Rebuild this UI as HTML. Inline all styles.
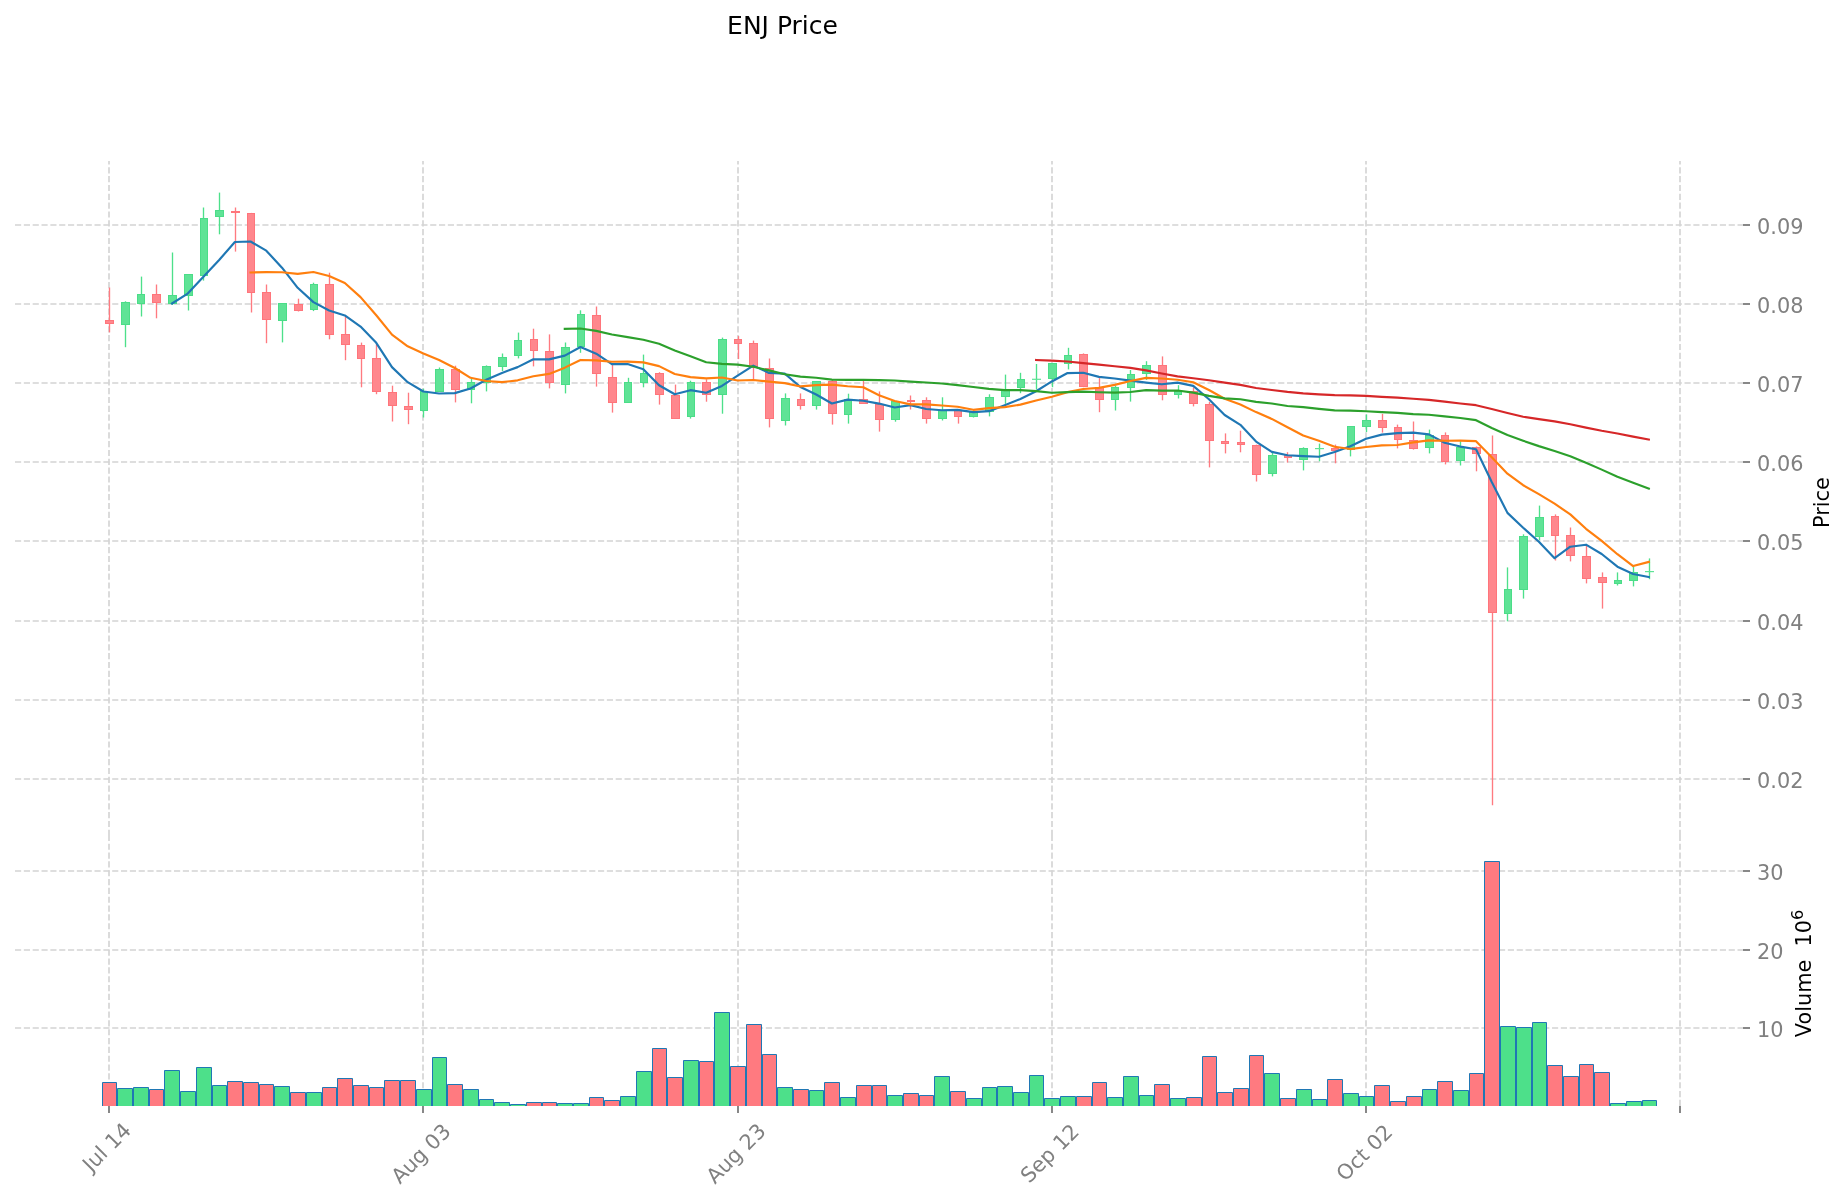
<!DOCTYPE html>
<html><head><meta charset="utf-8"><title>ENJ Price</title>
<style>html,body{margin:0;padding:0;background:#fff}body{width:1847px;height:1202px;overflow:hidden}svg{will-change:transform}svg text{white-space:pre}</style></head>
<body>
<svg width="1847" height="1202" viewBox="0 0 1847 1202" style="display:block">
<rect width="1847" height="1202" fill="#fff"/>
<g stroke="#d4d4d4" stroke-width="1.67" stroke-dasharray="6.1667 2.6667" fill="none">
<path d="M15 225H1743"/>
<path d="M15 304H1743"/>
<path d="M15 383H1743"/>
<path d="M15 462H1743"/>
<path d="M15 541H1743"/>
<path d="M15 621H1743"/>
<path d="M15 700H1743"/>
<path d="M15 779H1743"/>
<path d="M15 871H1743"/>
<path d="M15 950H1743"/>
<path d="M15 1028H1743"/>
<path d="M109 835.9V161"/>
<path d="M109 1106V835.9"/>
<path d="M423 835.9V161"/>
<path d="M423 1106V835.9"/>
<path d="M738 835.9V161"/>
<path d="M738 1106V835.9"/>
<path d="M1052 835.9V161"/>
<path d="M1052 1106V835.9"/>
<path d="M1366 835.9V161"/>
<path d="M1366 1106V835.9"/>
<path d="M1680 835.9V161"/>
<path d="M1680 1106V835.9"/>
</g>
<g stroke="#1f77b4" stroke-width="1">
<path d="M102.5 1106V1082.5H116.5V1106" fill="#ff7a80"/>
<path d="M117.5 1106V1088.5H132.5V1106" fill="#4de08a"/>
<path d="M133.5 1106V1087.5H148.5V1106" fill="#4de08a"/>
<path d="M149.5 1106V1089.5H163.5V1106" fill="#ff7a80"/>
<path d="M164.5 1106V1070.5H179.5V1106" fill="#4de08a"/>
<path d="M180.5 1106V1091.5H195.5V1106" fill="#4de08a"/>
<path d="M196.5 1106V1067.5H211.5V1106" fill="#4de08a"/>
<path d="M212.5 1106V1085.5H226.5V1106" fill="#4de08a"/>
<path d="M227.5 1106V1081.5H242.5V1106" fill="#ff7a80"/>
<path d="M243.5 1106V1082.5H258.5V1106" fill="#ff7a80"/>
<path d="M259.5 1106V1084.5H273.5V1106" fill="#ff7a80"/>
<path d="M274.5 1106V1086.5H289.5V1106" fill="#4de08a"/>
<path d="M290.5 1106V1092.5H305.5V1106" fill="#ff7a80"/>
<path d="M306.5 1106V1092.5H321.5V1106" fill="#4de08a"/>
<path d="M322.5 1106V1087.5H336.5V1106" fill="#ff7a80"/>
<path d="M337.5 1106V1078.5H352.5V1106" fill="#ff7a80"/>
<path d="M353.5 1106V1085.5H368.5V1106" fill="#ff7a80"/>
<path d="M369.5 1106V1087.5H383.5V1106" fill="#ff7a80"/>
<path d="M384.5 1106V1080.5H399.5V1106" fill="#ff7a80"/>
<path d="M400.5 1106V1080.5H415.5V1106" fill="#ff7a80"/>
<path d="M416.5 1106V1089.5H431.5V1106" fill="#4de08a"/>
<path d="M432.5 1106V1057.5H446.5V1106" fill="#4de08a"/>
<path d="M447.5 1106V1084.5H462.5V1106" fill="#ff7a80"/>
<path d="M463.5 1106V1089.5H478.5V1106" fill="#4de08a"/>
<path d="M479.5 1106V1099.5H493.5V1106" fill="#4de08a"/>
<path d="M494.5 1106V1102.5H509.5V1106" fill="#4de08a"/>
<path d="M510.5 1106V1104.5H525.5V1106" fill="#4de08a"/>
<path d="M526.5 1106V1102.5H541.5V1106" fill="#ff7a80"/>
<path d="M542.5 1106V1102.5H556.5V1106" fill="#ff7a80"/>
<path d="M557.5 1106V1103.5H572.5V1106" fill="#4de08a"/>
<path d="M573.5 1106V1103.5H588.5V1106" fill="#4de08a"/>
<path d="M589.5 1106V1097.5H603.5V1106" fill="#ff7a80"/>
<path d="M604.5 1106V1100.5H619.5V1106" fill="#ff7a80"/>
<path d="M620.5 1106V1096.5H635.5V1106" fill="#4de08a"/>
<path d="M636.5 1106V1071.5H651.5V1106" fill="#4de08a"/>
<path d="M652.5 1106V1048.5H666.5V1106" fill="#ff7a80"/>
<path d="M667.5 1106V1077.5H682.5V1106" fill="#ff7a80"/>
<path d="M683.5 1106V1060.5H698.5V1106" fill="#4de08a"/>
<path d="M699.5 1106V1061.5H713.5V1106" fill="#ff7a80"/>
<path d="M714.5 1106V1012.5H729.5V1106" fill="#4de08a"/>
<path d="M730.5 1106V1066.5H745.5V1106" fill="#ff7a80"/>
<path d="M746.5 1106V1024.5H761.5V1106" fill="#ff7a80"/>
<path d="M762.5 1106V1054.5H776.5V1106" fill="#ff7a80"/>
<path d="M777.5 1106V1087.5H792.5V1106" fill="#4de08a"/>
<path d="M793.5 1106V1089.5H808.5V1106" fill="#ff7a80"/>
<path d="M809.5 1106V1090.5H823.5V1106" fill="#4de08a"/>
<path d="M824.5 1106V1082.5H839.5V1106" fill="#ff7a80"/>
<path d="M840.5 1106V1097.5H855.5V1106" fill="#4de08a"/>
<path d="M856.5 1106V1085.5H871.5V1106" fill="#ff7a80"/>
<path d="M872.5 1106V1085.5H886.5V1106" fill="#ff7a80"/>
<path d="M887.5 1106V1095.5H902.5V1106" fill="#4de08a"/>
<path d="M903.5 1106V1093.5H918.5V1106" fill="#ff7a80"/>
<path d="M919.5 1106V1095.5H933.5V1106" fill="#ff7a80"/>
<path d="M934.5 1106V1076.5H949.5V1106" fill="#4de08a"/>
<path d="M950.5 1106V1091.5H965.5V1106" fill="#ff7a80"/>
<path d="M966.5 1106V1098.5H981.5V1106" fill="#4de08a"/>
<path d="M982.5 1106V1087.5H996.5V1106" fill="#4de08a"/>
<path d="M997.5 1106V1086.5H1012.5V1106" fill="#4de08a"/>
<path d="M1013.5 1106V1092.5H1028.5V1106" fill="#4de08a"/>
<path d="M1029.5 1106V1075.5H1043.5V1106" fill="#4de08a"/>
<path d="M1044.5 1106V1098.5H1059.5V1106" fill="#4de08a"/>
<path d="M1060.5 1106V1096.5H1075.5V1106" fill="#4de08a"/>
<path d="M1076.5 1106V1096.5H1091.5V1106" fill="#ff7a80"/>
<path d="M1092.5 1106V1082.5H1106.5V1106" fill="#ff7a80"/>
<path d="M1107.5 1106V1097.5H1122.5V1106" fill="#4de08a"/>
<path d="M1123.5 1106V1076.5H1138.5V1106" fill="#4de08a"/>
<path d="M1139.5 1106V1095.5H1153.5V1106" fill="#4de08a"/>
<path d="M1154.5 1106V1084.5H1169.5V1106" fill="#ff7a80"/>
<path d="M1170.5 1106V1098.5H1185.5V1106" fill="#4de08a"/>
<path d="M1186.5 1106V1097.5H1201.5V1106" fill="#ff7a80"/>
<path d="M1202.5 1106V1056.5H1216.5V1106" fill="#ff7a80"/>
<path d="M1217.5 1106V1092.5H1232.5V1106" fill="#ff7a80"/>
<path d="M1233.5 1106V1088.5H1248.5V1106" fill="#ff7a80"/>
<path d="M1249.5 1106V1055.5H1263.5V1106" fill="#ff7a80"/>
<path d="M1264.5 1106V1073.5H1279.5V1106" fill="#4de08a"/>
<path d="M1280.5 1106V1098.5H1295.5V1106" fill="#ff7a80"/>
<path d="M1296.5 1106V1089.5H1311.5V1106" fill="#4de08a"/>
<path d="M1312.5 1106V1099.5H1326.5V1106" fill="#4de08a"/>
<path d="M1327.5 1106V1079.5H1342.5V1106" fill="#ff7a80"/>
<path d="M1343.5 1106V1093.5H1358.5V1106" fill="#4de08a"/>
<path d="M1359.5 1106V1096.5H1373.5V1106" fill="#4de08a"/>
<path d="M1374.5 1106V1085.5H1389.5V1106" fill="#ff7a80"/>
<path d="M1390.5 1106V1101.5H1405.5V1106" fill="#ff7a80"/>
<path d="M1406.5 1106V1096.5H1421.5V1106" fill="#ff7a80"/>
<path d="M1422.5 1106V1089.5H1436.5V1106" fill="#4de08a"/>
<path d="M1437.5 1106V1081.5H1452.5V1106" fill="#ff7a80"/>
<path d="M1453.5 1106V1090.5H1468.5V1106" fill="#4de08a"/>
<path d="M1469.5 1106V1073.5H1483.5V1106" fill="#ff7a80"/>
<path d="M1484.5 1106V861.5H1499.5V1106" fill="#ff7a80"/>
<path d="M1500.5 1106V1026.5H1515.5V1106" fill="#4de08a"/>
<path d="M1516.5 1106V1027.5H1531.5V1106" fill="#4de08a"/>
<path d="M1532.5 1106V1022.5H1546.5V1106" fill="#4de08a"/>
<path d="M1547.5 1106V1065.5H1562.5V1106" fill="#ff7a80"/>
<path d="M1563.5 1106V1076.5H1578.5V1106" fill="#ff7a80"/>
<path d="M1579.5 1106V1064.5H1593.5V1106" fill="#ff7a80"/>
<path d="M1594.5 1106V1072.5H1609.5V1106" fill="#ff7a80"/>
<path d="M1610.5 1106V1103.5H1625.5V1106" fill="#4de08a"/>
<path d="M1626.5 1106V1101.5H1641.5V1106" fill="#4de08a"/>
<path d="M1642.5 1106V1100.5H1656.5V1106" fill="#4de08a"/>
</g>
<path d="M109.5 287.5V332.4" stroke="#ff7a80" stroke-width="1.35"/>
<rect x="105.5" y="320.5" width="8" height="3" fill="#ff878d" stroke="#ff757b" stroke-width="1"/>
<path d="M125.5 301.3V347.2" stroke="#4de08a" stroke-width="1.35"/>
<rect x="121.5" y="302.5" width="8" height="22" fill="#5fe396" stroke="#4bdd88" stroke-width="1"/>
<path d="M141.5 276.6V316.5" stroke="#4de08a" stroke-width="1.35"/>
<rect x="137.5" y="294.5" width="7" height="9" fill="#5fe396" stroke="#4bdd88" stroke-width="1"/>
<path d="M156.5 284.5V318.3" stroke="#ff7a80" stroke-width="1.35"/>
<rect x="152.5" y="294.5" width="8" height="8" fill="#ff878d" stroke="#ff757b" stroke-width="1"/>
<path d="M172.5 252.5V305.0" stroke="#4de08a" stroke-width="1.35"/>
<rect x="168.5" y="295.5" width="8" height="8" fill="#5fe396" stroke="#4bdd88" stroke-width="1"/>
<path d="M188.5 274.0V310.5" stroke="#4de08a" stroke-width="1.35"/>
<rect x="184.5" y="274.5" width="8" height="21" fill="#5fe396" stroke="#4bdd88" stroke-width="1"/>
<path d="M203.5 207.5V280.6" stroke="#4de08a" stroke-width="1.35"/>
<rect x="200.5" y="218.5" width="7" height="57" fill="#5fe396" stroke="#4bdd88" stroke-width="1"/>
<path d="M219.5 192.6V234.3" stroke="#4de08a" stroke-width="1.35"/>
<rect x="215.5" y="210.5" width="8" height="6" fill="#5fe396" stroke="#4bdd88" stroke-width="1"/>
<path d="M235.5 207.5V251.6" stroke="#ff7a80" stroke-width="1.35"/>
<rect x="231.5" y="211.5" width="8" height="1" fill="#ff878d" stroke="#ff757b" stroke-width="1"/>
<path d="M251.5 212.9V312.5" stroke="#ff7a80" stroke-width="1.35"/>
<rect x="247.5" y="213.5" width="7" height="79" fill="#ff878d" stroke="#ff757b" stroke-width="1"/>
<path d="M266.5 284.5V343.2" stroke="#ff7a80" stroke-width="1.35"/>
<rect x="262.5" y="292.5" width="8" height="27" fill="#ff878d" stroke="#ff757b" stroke-width="1"/>
<path d="M282.5 303.1V342.4" stroke="#4de08a" stroke-width="1.35"/>
<rect x="278.5" y="303.5" width="8" height="17" fill="#5fe396" stroke="#4bdd88" stroke-width="1"/>
<path d="M298.5 298.7V311.5" stroke="#ff7a80" stroke-width="1.35"/>
<rect x="294.5" y="304.5" width="8" height="6" fill="#ff878d" stroke="#ff757b" stroke-width="1"/>
<path d="M313.5 282.7V311.1" stroke="#4de08a" stroke-width="1.35"/>
<rect x="310.5" y="284.5" width="7" height="25" fill="#5fe396" stroke="#4bdd88" stroke-width="1"/>
<path d="M329.5 272.7V339.3" stroke="#ff7a80" stroke-width="1.35"/>
<rect x="325.5" y="284.5" width="8" height="50" fill="#ff878d" stroke="#ff757b" stroke-width="1"/>
<path d="M345.5 316.4V360.2" stroke="#ff7a80" stroke-width="1.35"/>
<rect x="341.5" y="334.5" width="8" height="10" fill="#ff878d" stroke="#ff757b" stroke-width="1"/>
<path d="M361.5 342.6V387.3" stroke="#ff7a80" stroke-width="1.35"/>
<rect x="357.5" y="345.5" width="7" height="13" fill="#ff878d" stroke="#ff757b" stroke-width="1"/>
<path d="M376.5 344.4V394.2" stroke="#ff7a80" stroke-width="1.35"/>
<rect x="372.5" y="358.5" width="8" height="33" fill="#ff878d" stroke="#ff757b" stroke-width="1"/>
<path d="M392.5 385.7V421.5" stroke="#ff7a80" stroke-width="1.35"/>
<rect x="388.5" y="392.5" width="8" height="13" fill="#ff878d" stroke="#ff757b" stroke-width="1"/>
<path d="M408.5 392.7V424.2" stroke="#ff7a80" stroke-width="1.35"/>
<rect x="404.5" y="406.5" width="8" height="3" fill="#ff878d" stroke="#ff757b" stroke-width="1"/>
<path d="M423.5 388.7V417.5" stroke="#4de08a" stroke-width="1.35"/>
<rect x="420.5" y="391.5" width="7" height="19" fill="#5fe396" stroke="#4bdd88" stroke-width="1"/>
<path d="M439.5 367.5V391.9" stroke="#4de08a" stroke-width="1.35"/>
<rect x="435.5" y="369.5" width="8" height="22" fill="#5fe396" stroke="#4bdd88" stroke-width="1"/>
<path d="M455.5 365.7V402.4" stroke="#ff7a80" stroke-width="1.35"/>
<rect x="451.5" y="369.5" width="8" height="20" fill="#ff878d" stroke="#ff757b" stroke-width="1"/>
<path d="M471.5 378.6V403.3" stroke="#4de08a" stroke-width="1.35"/>
<rect x="467.5" y="382.5" width="7" height="7" fill="#5fe396" stroke="#4bdd88" stroke-width="1"/>
<path d="M486.5 365.4V391.4" stroke="#4de08a" stroke-width="1.35"/>
<rect x="482.5" y="366.5" width="8" height="16" fill="#5fe396" stroke="#4bdd88" stroke-width="1"/>
<path d="M502.5 353.5V371.0" stroke="#4de08a" stroke-width="1.35"/>
<rect x="498.5" y="357.5" width="8" height="9" fill="#5fe396" stroke="#4bdd88" stroke-width="1"/>
<path d="M518.5 332.6V358.4" stroke="#4de08a" stroke-width="1.35"/>
<rect x="514.5" y="340.5" width="7" height="15" fill="#5fe396" stroke="#4bdd88" stroke-width="1"/>
<path d="M533.5 328.7V366.4" stroke="#ff7a80" stroke-width="1.35"/>
<rect x="530.5" y="339.5" width="7" height="11" fill="#ff878d" stroke="#ff757b" stroke-width="1"/>
<path d="M549.5 334.4V388.4" stroke="#ff7a80" stroke-width="1.35"/>
<rect x="545.5" y="351.5" width="8" height="31" fill="#ff878d" stroke="#ff757b" stroke-width="1"/>
<path d="M565.5 342.5V393.4" stroke="#4de08a" stroke-width="1.35"/>
<rect x="561.5" y="347.5" width="8" height="37" fill="#5fe396" stroke="#4bdd88" stroke-width="1"/>
<path d="M580.5 310.3V352.8" stroke="#4de08a" stroke-width="1.35"/>
<rect x="577.5" y="314.5" width="7" height="32" fill="#5fe396" stroke="#4bdd88" stroke-width="1"/>
<path d="M596.5 306.5V386.6" stroke="#ff7a80" stroke-width="1.35"/>
<rect x="592.5" y="315.5" width="8" height="58" fill="#ff878d" stroke="#ff757b" stroke-width="1"/>
<path d="M612.5 364.9V412.6" stroke="#ff7a80" stroke-width="1.35"/>
<rect x="608.5" y="377.5" width="8" height="25" fill="#ff878d" stroke="#ff757b" stroke-width="1"/>
<path d="M628.5 377.8V402.8" stroke="#4de08a" stroke-width="1.35"/>
<rect x="624.5" y="382.5" width="7" height="20" fill="#5fe396" stroke="#4bdd88" stroke-width="1"/>
<path d="M643.5 354.6V387.3" stroke="#4de08a" stroke-width="1.35"/>
<rect x="640.5" y="373.5" width="7" height="9" fill="#5fe396" stroke="#4bdd88" stroke-width="1"/>
<path d="M659.5 372.2V404.6" stroke="#ff7a80" stroke-width="1.35"/>
<rect x="655.5" y="373.5" width="8" height="21" fill="#ff878d" stroke="#ff757b" stroke-width="1"/>
<path d="M675.5 384.6V418.7" stroke="#ff7a80" stroke-width="1.35"/>
<rect x="671.5" y="395.5" width="8" height="23" fill="#ff878d" stroke="#ff757b" stroke-width="1"/>
<path d="M690.5 380.7V418.6" stroke="#4de08a" stroke-width="1.35"/>
<rect x="687.5" y="382.5" width="7" height="34" fill="#5fe396" stroke="#4bdd88" stroke-width="1"/>
<path d="M706.5 379.3V401.7" stroke="#ff7a80" stroke-width="1.35"/>
<rect x="702.5" y="382.5" width="8" height="12" fill="#ff878d" stroke="#ff757b" stroke-width="1"/>
<path d="M722.5 337.6V413.7" stroke="#4de08a" stroke-width="1.35"/>
<rect x="718.5" y="339.5" width="8" height="55" fill="#5fe396" stroke="#4bdd88" stroke-width="1"/>
<path d="M738.5 336.1V359.1" stroke="#ff7a80" stroke-width="1.35"/>
<rect x="734.5" y="339.5" width="7" height="4" fill="#ff878d" stroke="#ff757b" stroke-width="1"/>
<path d="M753.5 340.6V379.3" stroke="#ff7a80" stroke-width="1.35"/>
<rect x="749.5" y="343.5" width="8" height="24" fill="#ff878d" stroke="#ff757b" stroke-width="1"/>
<path d="M769.5 358.5V427.4" stroke="#ff7a80" stroke-width="1.35"/>
<rect x="765.5" y="368.5" width="8" height="50" fill="#ff878d" stroke="#ff757b" stroke-width="1"/>
<path d="M785.5 393.4V425.5" stroke="#4de08a" stroke-width="1.35"/>
<rect x="781.5" y="398.5" width="8" height="22" fill="#5fe396" stroke="#4bdd88" stroke-width="1"/>
<path d="M800.5 393.4V409.6" stroke="#ff7a80" stroke-width="1.35"/>
<rect x="797.5" y="399.5" width="7" height="6" fill="#ff878d" stroke="#ff757b" stroke-width="1"/>
<path d="M816.5 381.1V409.6" stroke="#4de08a" stroke-width="1.35"/>
<rect x="812.5" y="381.5" width="8" height="24" fill="#5fe396" stroke="#4bdd88" stroke-width="1"/>
<path d="M832.5 380.0V424.6" stroke="#ff7a80" stroke-width="1.35"/>
<rect x="828.5" y="381.5" width="8" height="32" fill="#ff878d" stroke="#ff757b" stroke-width="1"/>
<path d="M848.5 393.7V423.6" stroke="#4de08a" stroke-width="1.35"/>
<rect x="844.5" y="399.5" width="7" height="15" fill="#5fe396" stroke="#4bdd88" stroke-width="1"/>
<path d="M863.5 380.3V404.0" stroke="#ff7a80" stroke-width="1.35"/>
<rect x="859.5" y="399.5" width="8" height="4" fill="#ff878d" stroke="#ff757b" stroke-width="1"/>
<path d="M879.5 391.4V431.6" stroke="#ff7a80" stroke-width="1.35"/>
<rect x="875.5" y="404.5" width="8" height="15" fill="#ff878d" stroke="#ff757b" stroke-width="1"/>
<path d="M895.5 400.8V421.7" stroke="#4de08a" stroke-width="1.35"/>
<rect x="891.5" y="401.5" width="8" height="18" fill="#5fe396" stroke="#4bdd88" stroke-width="1"/>
<path d="M910.5 395.5V409.5" stroke="#ff7a80" stroke-width="1.35"/>
<rect x="907.5" y="400.5" width="7" height="1" fill="#ff878d" stroke="#ff757b" stroke-width="1"/>
<path d="M926.5 397.3V423.6" stroke="#ff7a80" stroke-width="1.35"/>
<rect x="922.5" y="400.5" width="8" height="18" fill="#ff878d" stroke="#ff757b" stroke-width="1"/>
<path d="M942.5 397.3V420.5" stroke="#4de08a" stroke-width="1.35"/>
<rect x="938.5" y="410.5" width="8" height="8" fill="#5fe396" stroke="#4bdd88" stroke-width="1"/>
<path d="M958.5 410.4V423.6" stroke="#ff7a80" stroke-width="1.35"/>
<rect x="954.5" y="410.5" width="7" height="6" fill="#ff878d" stroke="#ff757b" stroke-width="1"/>
<path d="M973.5 412.3V417.5" stroke="#4de08a" stroke-width="1.35"/>
<rect x="969.5" y="412.5" width="8" height="4" fill="#5fe396" stroke="#4bdd88" stroke-width="1"/>
<path d="M989.5 394.3V416.4" stroke="#4de08a" stroke-width="1.35"/>
<rect x="985.5" y="397.5" width="8" height="14" fill="#5fe396" stroke="#4bdd88" stroke-width="1"/>
<path d="M1005.5 374.6V403.8" stroke="#4de08a" stroke-width="1.35"/>
<rect x="1001.5" y="389.5" width="8" height="7" fill="#5fe396" stroke="#4bdd88" stroke-width="1"/>
<path d="M1020.5 372.8V393.2" stroke="#4de08a" stroke-width="1.35"/>
<rect x="1017.5" y="379.5" width="7" height="8" fill="#5fe396" stroke="#4bdd88" stroke-width="1"/>
<path d="M1036.5 364.0V389.4" stroke="#4de08a" stroke-width="1.35"/>
<rect x="1032" y="378.7" width="9" height="1.2" fill="#5fe396"/>
<path d="M1052.5 363.4V387.2" stroke="#4de08a" stroke-width="1.35"/>
<rect x="1048.5" y="363.5" width="8" height="15" fill="#5fe396" stroke="#4bdd88" stroke-width="1"/>
<path d="M1068.5 347.8V369.4" stroke="#4de08a" stroke-width="1.35"/>
<rect x="1064.5" y="355.5" width="7" height="8" fill="#5fe396" stroke="#4bdd88" stroke-width="1"/>
<path d="M1083.5 353.4V387.2" stroke="#ff7a80" stroke-width="1.35"/>
<rect x="1079.5" y="354.5" width="8" height="32" fill="#ff878d" stroke="#ff757b" stroke-width="1"/>
<path d="M1099.5 378.1V412.2" stroke="#ff7a80" stroke-width="1.35"/>
<rect x="1095.5" y="387.5" width="8" height="12" fill="#ff878d" stroke="#ff757b" stroke-width="1"/>
<path d="M1115.5 385.5V410.5" stroke="#4de08a" stroke-width="1.35"/>
<rect x="1111.5" y="387.5" width="7" height="12" fill="#5fe396" stroke="#4bdd88" stroke-width="1"/>
<path d="M1130.5 370.0V401.6" stroke="#4de08a" stroke-width="1.35"/>
<rect x="1127.5" y="374.5" width="7" height="13" fill="#5fe396" stroke="#4bdd88" stroke-width="1"/>
<path d="M1146.5 361.2V379.9" stroke="#4de08a" stroke-width="1.35"/>
<rect x="1142.5" y="365.5" width="8" height="8" fill="#5fe396" stroke="#4bdd88" stroke-width="1"/>
<path d="M1162.5 356.4V400.3" stroke="#ff7a80" stroke-width="1.35"/>
<rect x="1158.5" y="365.5" width="8" height="29" fill="#ff878d" stroke="#ff757b" stroke-width="1"/>
<path d="M1178.5 385.2V398.5" stroke="#4de08a" stroke-width="1.35"/>
<rect x="1174.5" y="391.5" width="7" height="3" fill="#5fe396" stroke="#4bdd88" stroke-width="1"/>
<path d="M1193.5 387.5V406.4" stroke="#ff7a80" stroke-width="1.35"/>
<rect x="1189.5" y="391.5" width="8" height="12" fill="#ff878d" stroke="#ff757b" stroke-width="1"/>
<path d="M1209.5 401.9V467.4" stroke="#ff7a80" stroke-width="1.35"/>
<rect x="1205.5" y="404.5" width="8" height="36" fill="#ff878d" stroke="#ff757b" stroke-width="1"/>
<path d="M1225.5 433.4V453.4" stroke="#ff7a80" stroke-width="1.35"/>
<rect x="1221.5" y="441.5" width="7" height="2" fill="#ff878d" stroke="#ff757b" stroke-width="1"/>
<path d="M1240.5 430.7V452.3" stroke="#ff7a80" stroke-width="1.35"/>
<rect x="1237.5" y="442.5" width="7" height="2" fill="#ff878d" stroke="#ff757b" stroke-width="1"/>
<path d="M1256.5 444.6V481.5" stroke="#ff7a80" stroke-width="1.35"/>
<rect x="1252.5" y="445.5" width="8" height="29" fill="#ff878d" stroke="#ff757b" stroke-width="1"/>
<path d="M1272.5 452.6V476.4" stroke="#4de08a" stroke-width="1.35"/>
<rect x="1268.5" y="455.5" width="8" height="18" fill="#5fe396" stroke="#4bdd88" stroke-width="1"/>
<path d="M1287.5 452.2V462.5" stroke="#ff7a80" stroke-width="1.35"/>
<rect x="1284.5" y="455.5" width="7" height="2" fill="#ff878d" stroke="#ff757b" stroke-width="1"/>
<path d="M1303.5 447.3V470.4" stroke="#4de08a" stroke-width="1.35"/>
<rect x="1299.5" y="448.5" width="8" height="11" fill="#5fe396" stroke="#4bdd88" stroke-width="1"/>
<path d="M1319.5 443.6V461.3" stroke="#4de08a" stroke-width="1.35"/>
<rect x="1315" y="448.0" width="9" height="1.2" fill="#5fe396"/>
<path d="M1335.5 444.6V463.3" stroke="#ff7a80" stroke-width="1.35"/>
<rect x="1331.5" y="448.5" width="7" height="2" fill="#ff878d" stroke="#ff757b" stroke-width="1"/>
<path d="M1350.5 426.1V456.4" stroke="#4de08a" stroke-width="1.35"/>
<rect x="1347.5" y="426.5" width="7" height="23" fill="#5fe396" stroke="#4bdd88" stroke-width="1"/>
<path d="M1366.5 414.4V432.1" stroke="#4de08a" stroke-width="1.35"/>
<rect x="1362.5" y="420.5" width="8" height="6" fill="#5fe396" stroke="#4bdd88" stroke-width="1"/>
<path d="M1382.5 413.9V432.6" stroke="#ff7a80" stroke-width="1.35"/>
<rect x="1378.5" y="420.5" width="8" height="7" fill="#ff878d" stroke="#ff757b" stroke-width="1"/>
<path d="M1397.5 424.6V448.4" stroke="#ff7a80" stroke-width="1.35"/>
<rect x="1394.5" y="427.5" width="7" height="12" fill="#ff878d" stroke="#ff757b" stroke-width="1"/>
<path d="M1413.5 421.5V449.6" stroke="#ff7a80" stroke-width="1.35"/>
<rect x="1409.5" y="440.5" width="8" height="8" fill="#ff878d" stroke="#ff757b" stroke-width="1"/>
<path d="M1429.5 429.6V453.4" stroke="#4de08a" stroke-width="1.35"/>
<rect x="1425.5" y="435.5" width="8" height="12" fill="#5fe396" stroke="#4bdd88" stroke-width="1"/>
<path d="M1445.5 432.4V464.4" stroke="#ff7a80" stroke-width="1.35"/>
<rect x="1441.5" y="435.5" width="7" height="26" fill="#ff878d" stroke="#ff757b" stroke-width="1"/>
<path d="M1460.5 441.2V465.5" stroke="#4de08a" stroke-width="1.35"/>
<rect x="1456.5" y="447.5" width="8" height="13" fill="#5fe396" stroke="#4bdd88" stroke-width="1"/>
<path d="M1476.5 446.5V471.3" stroke="#ff7a80" stroke-width="1.35"/>
<rect x="1472.5" y="447.5" width="8" height="6" fill="#ff878d" stroke="#ff757b" stroke-width="1"/>
<path d="M1492.5 435.6V805.3" stroke="#ff7a80" stroke-width="1.35"/>
<rect x="1488.5" y="454.5" width="8" height="158" fill="#ff878d" stroke="#ff757b" stroke-width="1"/>
<path d="M1507.5 567.4V621.3" stroke="#4de08a" stroke-width="1.35"/>
<rect x="1504.5" y="589.5" width="7" height="24" fill="#5fe396" stroke="#4bdd88" stroke-width="1"/>
<path d="M1523.5 534.3V598.6" stroke="#4de08a" stroke-width="1.35"/>
<rect x="1519.5" y="536.5" width="8" height="53" fill="#5fe396" stroke="#4bdd88" stroke-width="1"/>
<path d="M1539.5 505.6V540.2" stroke="#4de08a" stroke-width="1.35"/>
<rect x="1535.5" y="517.5" width="8" height="19" fill="#5fe396" stroke="#4bdd88" stroke-width="1"/>
<path d="M1555.5 514.4V560.5" stroke="#ff7a80" stroke-width="1.35"/>
<rect x="1551.5" y="516.5" width="7" height="19" fill="#ff878d" stroke="#ff757b" stroke-width="1"/>
<path d="M1570.5 527.5V561.4" stroke="#ff7a80" stroke-width="1.35"/>
<rect x="1566.5" y="535.5" width="8" height="20" fill="#ff878d" stroke="#ff757b" stroke-width="1"/>
<path d="M1586.5 545.6V583.4" stroke="#ff7a80" stroke-width="1.35"/>
<rect x="1582.5" y="556.5" width="8" height="22" fill="#ff878d" stroke="#ff757b" stroke-width="1"/>
<path d="M1602.5 572.4V608.6" stroke="#ff7a80" stroke-width="1.35"/>
<rect x="1598.5" y="577.5" width="8" height="5" fill="#ff878d" stroke="#ff757b" stroke-width="1"/>
<path d="M1617.5 572.4V585.5" stroke="#4de08a" stroke-width="1.35"/>
<rect x="1614.5" y="580.5" width="7" height="3" fill="#5fe396" stroke="#4bdd88" stroke-width="1"/>
<path d="M1633.5 566.1V586.4" stroke="#4de08a" stroke-width="1.35"/>
<rect x="1629.5" y="572.5" width="8" height="8" fill="#5fe396" stroke="#4bdd88" stroke-width="1"/>
<path d="M1649.5 558.4V579.2" stroke="#4de08a" stroke-width="1.35"/>
<rect x="1645" y="571.0" width="9" height="1.2" fill="#5fe396"/>
<path d="M172.01 303.50L187.72 293.56L203.43 276.80L219.15 260.00L234.86 241.98L250.57 241.50L266.28 250.69L281.99 267.66L297.70 287.80L313.41 302.10L329.12 310.50L344.83 315.46L360.54 326.61L376.25 342.81L391.97 367.15L407.68 382.19L423.39 391.47L439.10 393.53L454.81 393.14L470.52 388.44L486.23 379.70L501.94 372.91L517.65 367.12L533.37 359.30L549.08 359.39L564.79 355.60L580.50 346.98L596.21 353.68L611.92 364.11L627.63 363.99L643.34 369.17L659.05 385.30L674.76 394.30L690.48 390.18L706.19 392.70L721.90 385.91L737.61 375.69L753.32 365.62L769.03 372.93L784.74 373.63L800.45 386.97L816.16 394.46L831.87 403.52L847.59 399.64L863.30 400.79L879.01 403.57L894.72 407.51L910.43 405.15L926.14 409.03L941.85 410.27L957.56 409.82L973.27 412.12L988.98 411.18L1004.70 405.18L1020.41 398.96L1036.12 391.23L1051.83 381.44L1067.54 373.07L1083.25 372.77L1098.96 376.86L1114.67 378.52L1130.38 380.67L1146.09 382.61L1161.80 384.28L1177.52 382.61L1193.23 385.91L1208.94 399.26L1224.65 414.99L1240.36 424.85L1256.07 441.58L1271.78 451.89L1287.49 455.26L1303.20 456.13L1318.91 456.80L1334.63 452.04L1350.34 446.22L1366.05 438.75L1381.76 434.65L1397.47 433.13L1413.18 432.67L1428.89 434.42L1444.60 442.69L1460.31 446.57L1476.03 449.24L1491.74 482.06L1507.45 512.88L1523.16 527.78L1538.87 541.75L1554.58 558.15L1570.29 546.72L1586.00 544.70L1601.71 554.01L1617.42 566.69L1633.14 573.95L1648.85 577.02" fill="none" stroke="#1f77b4" stroke-width="2.15" stroke-linejoin="round" stroke-linecap="square"/>
<path d="M250.57 272.50L266.28 272.13L281.99 272.23L297.70 273.90L313.41 272.04L329.12 276.00L344.83 283.07L360.54 297.14L376.25 315.30L391.97 334.63L407.68 346.35L423.39 353.46L439.10 360.07L454.81 367.97L470.52 377.79L486.23 380.95L501.94 382.19L517.65 380.33L533.37 376.22L549.08 373.91L564.79 367.65L580.50 359.95L596.21 360.40L611.92 361.70L627.63 361.69L643.34 362.38L659.05 366.14L674.76 373.99L690.48 377.15L706.19 378.34L721.90 377.54L737.61 380.49L753.32 379.96L769.03 381.56L784.74 383.16L800.45 386.44L816.16 385.07L831.87 384.57L847.59 386.28L863.30 387.21L879.01 395.27L894.72 400.98L910.43 404.33L926.14 404.33L941.85 405.53L957.56 406.70L973.27 409.82L988.98 408.17L1004.70 407.10L1020.41 404.62L1036.12 400.52L1051.83 396.78L1067.54 392.13L1083.25 388.97L1098.96 387.91L1114.67 384.88L1130.38 381.06L1146.09 377.84L1161.80 378.52L1177.52 379.73L1193.23 382.22L1208.94 389.96L1224.65 398.80L1240.36 404.56L1256.07 412.10L1271.78 418.90L1287.49 427.26L1303.20 435.56L1318.91 440.82L1334.63 446.81L1350.34 449.06L1366.05 447.00L1381.76 445.39L1397.47 444.96L1413.18 442.35L1428.89 440.32L1444.60 440.72L1460.31 440.61L1476.03 441.18L1491.74 457.36L1507.45 473.65L1523.16 485.24L1538.87 494.16L1554.58 503.69L1570.29 514.39L1586.00 528.79L1601.71 540.90L1617.42 554.22L1633.14 566.05L1648.85 561.87" fill="none" stroke="#ff7f0e" stroke-width="2.15" stroke-linejoin="round" stroke-linecap="square"/>
<path d="M564.79 328.83L580.50 328.51L596.21 330.90L611.92 334.53L627.63 337.17L643.34 339.78L659.05 343.80L674.76 350.49L690.48 356.22L706.19 362.29L721.90 363.85L737.61 364.64L753.32 366.81L769.03 370.41L784.74 374.21L800.45 376.59L816.16 377.80L831.87 379.63L847.59 379.88L863.30 379.82L879.01 380.15L894.72 380.48L910.43 381.57L926.14 382.53L941.85 383.46L957.56 385.17L973.27 387.01L988.98 388.91L1004.70 390.18L1020.41 390.06L1036.12 391.11L1051.83 392.75L1067.54 392.14L1083.25 391.62L1098.96 392.20L1114.67 392.67L1130.38 391.98L1146.09 390.19L1161.80 390.64L1177.52 390.52L1193.23 392.67L1208.94 395.91L1224.65 398.42L1240.36 399.29L1256.07 401.85L1271.78 403.49L1287.49 406.04L1303.20 407.19L1318.91 408.82L1334.63 410.39L1350.34 410.60L1366.05 411.25L1381.76 412.11L1397.47 412.83L1413.18 414.12L1428.89 414.70L1444.60 416.34L1460.31 418.01L1476.03 420.18L1491.74 427.97L1507.45 434.97L1523.16 440.73L1538.87 446.12L1554.58 451.07L1570.29 456.28L1586.00 462.67L1601.71 469.62L1617.42 476.80L1633.14 482.69L1648.85 488.68" fill="none" stroke="#2ca02c" stroke-width="2.15" stroke-linejoin="round" stroke-linecap="square"/>
<path d="M1036.12 359.97L1051.83 360.63L1067.54 361.52L1083.25 363.07L1098.96 364.69L1114.67 366.22L1130.38 367.89L1146.09 370.34L1161.80 373.43L1177.52 376.41L1193.23 378.26L1208.94 380.27L1224.65 382.62L1240.36 384.85L1256.07 388.03L1271.78 390.04L1287.49 391.92L1303.20 393.41L1318.91 394.35L1334.63 395.10L1350.34 395.38L1366.05 395.86L1381.76 396.84L1397.47 397.68L1413.18 398.79L1428.89 399.94L1444.60 401.68L1460.31 403.46L1476.03 405.18L1491.74 409.01L1507.45 413.04L1523.16 416.74L1538.87 419.13L1554.58 421.35L1570.29 424.24L1586.00 427.67L1601.71 430.80L1617.42 433.50L1633.14 436.66L1648.85 439.60" fill="none" stroke="#d62728" stroke-width="2.15" stroke-linejoin="round" stroke-linecap="square"/>
<g stroke="#707070" stroke-width="1.67">
<path d="M1743 225h7"/>
<path d="M1743 304h7"/>
<path d="M1743 383h7"/>
<path d="M1743 462h7"/>
<path d="M1743 541h7"/>
<path d="M1743 621h7"/>
<path d="M1743 700h7"/>
<path d="M1743 779h7"/>
<path d="M1743 871h7"/>
<path d="M1743 950h7"/>
<path d="M1743 1028h7"/>
<path d="M109 1106v7"/>
<path d="M423 1106v7"/>
<path d="M738 1106v7"/>
<path d="M1052 1106v7"/>
<path d="M1366 1106v7"/>
<path d="M1680 1106v7"/>
</g>
<g font-family="DejaVu Sans, Liberation Sans, sans-serif" font-size="20.83" fill="#808080">
<text x="1757.1" y="233.60">0.09</text>
<text x="1757.1" y="312.60">0.08</text>
<text x="1757.1" y="391.60">0.07</text>
<text x="1757.1" y="470.60">0.06</text>
<text x="1757.1" y="549.60">0.05</text>
<text x="1757.1" y="629.60">0.04</text>
<text x="1757.1" y="708.60">0.03</text>
<text x="1757.1" y="787.60">0.02</text>
<text x="1757.1" y="879.60">30</text>
<text x="1757.1" y="958.60">20</text>
<text x="1757.1" y="1036.60">10</text>
<text text-anchor="middle" transform="translate(106.40 1146.80) rotate(-45)" x="0" y="7.6">Jul 14</text>
<text text-anchor="middle" transform="translate(420.60 1153.40) rotate(-45)" x="0" y="7.6">Aug 03</text>
<text text-anchor="middle" transform="translate(735.60 1153.20) rotate(-45)" x="0" y="7.6">Aug 23</text>
<text text-anchor="middle" transform="translate(1049.40 1153.00) rotate(-45)" x="0" y="7.6">Sep 12</text>
<text text-anchor="middle" transform="translate(1364.10 1152.40) rotate(-45)" x="0" y="7.6">Oct 02</text>
</g>
<g font-family="DejaVu Sans, Liberation Sans, sans-serif" fill="#000">
<text x="782.5" y="33.9" font-size="25" text-anchor="middle">ENJ Price</text>
<text font-size="20.83" text-anchor="middle" transform="translate(1829.0 502.6) rotate(-90)">Price</text>
<text font-size="20.83" text-anchor="middle" transform="translate(1810.6 973.4) rotate(-90)">Volume  10<tspan font-size="16.2" dy="-7.8">6</tspan></text>
</g>
</svg>
</body></html>
